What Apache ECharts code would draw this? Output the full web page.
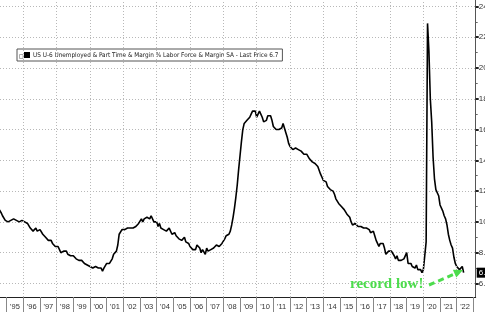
<!DOCTYPE html>
<html>
<head>
<meta charset="utf-8">
<script src="https://cdn.jsdelivr.net/npm/echarts@6/dist/echarts.min.js"></script>
<style>html,body{margin:0;padding:0;background:#fff}#c{width:485px;height:312px}</style>
</head>
<body>
<div id="c"></div>
<script>
// Monthly U-6 rate (%), Jan..Dec of each year
const u6_1994 = [11.8,11.4,11.4,11.2,10.8,10.9,10.9,10.8,10.6,10.4,10.3,10.1];
const u6_1995 = [10.1,10.0,9.9,10.1,10.1,10.2,10.2,10.1,10.1,10.0,10.1,10.1];
const u6_1996 = [10.0,10.0,9.9,9.9,9.8,9.6,9.6,9.4,9.5,9.6,9.4,9.5];
const u6_1997 = [9.5,9.4,9.2,9.2,9.0,8.9,8.8,8.7,8.8,8.6,8.5,8.4];
const u6_1998 = [8.5,8.4,8.4,8.0,8.0,8.1,8.2,8.1,7.9,7.9,7.8,7.7];
const u6_1999 = [7.8,7.7,7.6,7.6,7.5,7.5,7.5,7.4,7.3,7.3,7.2,7.2];
const u6_2000 = [7.1,7.2,7.0,6.9,7.1,7.0,7.0,7.1,7.0,6.8,7.0,6.9];
const u6_2001 = [7.3,7.4,7.3,7.4,7.6,7.9,7.9,8.1,8.5,9.2,9.3,9.5];
const u6_2002 = [9.5,9.5,9.4,9.6,9.5,9.6,9.6,9.6,9.6,9.7,9.8,9.9];
const u6_2003 = [10.0,10.2,10.0,10.2,10.1,10.3,10.3,10.2,10.4,10.3,10.0,9.9];
const u6_2004 = [10.0,9.7,9.9,9.6,9.7,9.5,9.5,9.4,9.4,9.6,9.5,9.2];
const u6_2005 = [9.3,9.3,9.1,9.0,8.9,9.0,8.8,8.9,9.0,8.7,8.7,8.6];
const u6_2006 = [8.4,8.4,8.2,8.1,8.2,8.5,8.5,8.3,8.0,8.2,8.1,7.9];
const u6_2007 = [8.3,8.1,8.0,8.2,8.2,8.3,8.4,8.5,8.6,8.4,8.4,8.6];
const u6_2008 = [8.5,8.9,9.1,9.1,9.2,9.4,9.8,10.3,10.9,11.6,12.4,13.4];
const u6_2009 = [14.3,15.2,16.0,16.4,16.5,16.6,16.5,16.8,17.0,17.2,17.1,17.2];
const u6_2010 = [16.8,17.0,17.2,17.2,16.8,16.5,16.5,16.6,16.9,17.0,16.9,16.6];
const u6_2011 = [16.2,16.1,16.0,16.1,16.0,16.1,16.1,16.4,16.3,15.8,15.5,15.1];
const u6_2012 = [14.9,14.9,14.7,14.7,14.8,14.8,14.7,14.6,14.6,14.5,14.4,14.3];
const u6_2013 = [14.4,14.3,14.1,14.0,13.9,14.0,13.8,13.7,13.6,13.5,13.1,12.9];
const u6_2014 = [12.7,12.6,12.6,12.3,12.2,12.1,12.1,12.0,11.8,11.5,11.4,11.2];
const u6_2015 = [11.3,11.0,10.9,10.8,10.7,10.5,10.4,10.3,10.0,9.8,9.9,9.9];
const u6_2016 = [9.9,9.7,9.8,9.7,9.7,9.6,9.7,9.6,9.7,9.5,9.3,9.2];
const u6_2017 = [9.4,9.1,8.8,8.6,8.4,8.6,8.6,8.6,8.3,7.9,8.0,8.1];
const u6_2018 = [8.2,8.1,8.0,7.8,7.6,7.8,7.5,7.4,7.5,7.4,7.6,7.6];
const u6_2019 = [8.0,7.3,7.3,7.3,7.1,7.2,7.0,7.2,6.9,7.0,6.9,6.7];
const u6_2020 = [6.9,7.0,8.7,22.9,21.1,18.0,16.5,14.2,12.8,12.1,12.0,11.7];
const u6_2021 = [11.1,11.1,10.7,10.4,10.2,9.8,9.2,8.8,8.5,8.3,7.7,7.3];
const u6_2022 = [7.1,7.2,6.9,7.0,7.1,6.7];

const firstYear = 1994;
const yearly = [u6_1994,u6_1995,u6_1996,u6_1997,u6_1998,u6_1999,u6_2000,u6_2001,u6_2002,u6_2003,
  u6_2004,u6_2005,u6_2006,u6_2007,u6_2008,u6_2009,u6_2010,u6_2011,u6_2012,u6_2013,u6_2014,
  u6_2015,u6_2016,u6_2017,u6_2018,u6_2019,u6_2020,u6_2021,u6_2022];

const yTicks = [6,8,10,12,14,16,18,20,22,24];
const yMinorTicks = [7,9,11,13,15,17,19,21,23];
const xYearTicks = [1995,1996,1997,1998,1999,2000,2001,2002,2003,2004,2005,2006,2007,2008,2009,
  2010,2011,2012,2013,2014,2015,2016,2017,2018,2019,2020,2021,2022,2023];
const xGridYears = [1996,1998,2000,2002,2004,2006,2008,2010,2012,2014,2016,2018,2020,2022];
const legendName = 'US U-6 Unemployed & Part Time & Margin % Labor Force & Margin SA - Last Price 6.7';

const data = [];
yearly.forEach((arr, i) => arr.forEach((v, m) => data.push([firstYear + i + m / 12, v])));
const lastVal = data[data.length - 1][1];
const xLabelVals = xYearTicks.slice(0, -1).map(y => y + 0.5);

const chart = echarts.init(document.getElementById('c'), null, {renderer: 'canvas'});
const grid = '#b8b8b8';
const dotted = {color: grid, type: [1, 2], width: 1};
chart.setOption({
  animation: false,
  backgroundColor: '#fff',
  grid: {left: 0, right: 9.3, top: 0, bottom: 15, containLabel: false, outerBoundsMode: 'none'},
  legend: {
    data: [legendName], left: 17, top: 49, icon: 'rect', itemWidth: 6, itemHeight: 6, itemGap: 0,
    padding: [3, 4, 3, 7], borderColor: '#555', borderWidth: 1, backgroundColor: '#fff',
    textStyle: {fontSize: 6.4, color: '#222', fontFamily: '"DejaVu Sans Condensed", sans-serif', padding: [0,0,0,-2]}
  },
  xAxis: [{
    type: 'value', min: 1994.6, max: 2023.14, position: 'bottom',
    axisLine: {show: true, lineStyle: {color: '#222', width: 1}},
    axisTick: {show: true, customValues: xYearTicks, length: 15, lineStyle: {color: '#888'}},
    axisLabel: {customValues: xLabelVals, formatter: v => "'" + String(Math.floor(v)).slice(2),
      fontSize: 7.5, color: '#333', margin: 6, fontFamily: 'Liberation Sans, Arial, sans-serif'},
    splitLine: {show: false}
  }],
  yAxis: [{
    type: 'value', min: 5.12, max: 24.42, position: 'right',
    axisLine: {show: true, lineStyle: {color: '#555', width: 1}},
    axisTick: {show: true, customValues: yTicks, length: 3, lineStyle: {color: '#222', width: 2}},
    axisLabel: {customValues: yTicks, formatter: v => v.toFixed(1), fontSize: 8, color: '#333', margin: 3,
      fontFamily: 'Liberation Sans, Arial, sans-serif'},
    splitLine: {show: true, lineStyle: dotted}
  }, {
    type: 'value', min: 5.12, max: 24.42, position: 'right',
    axisLine: {show: false},
    axisTick: {show: true, customValues: yMinorTicks, length: 2, lineStyle: {color: '#666', width: 1}},
    axisLabel: {show: true, customValues: [lastVal], formatter: v => v.toFixed(1), fontSize: 8, color: '#fff',
      backgroundColor: '#000', padding: [1, 2, 1, 2], margin: 1, fontFamily: 'Liberation Sans, Arial, sans-serif'},
    splitLine: {show: false}
  }],
  series: [{
    name: 'grid', type: 'line', data: [], xAxisIndex: 0, yAxisIndex: 0, z: 1, silent: true,
    markLine: {
      silent: true, symbol: 'none', animation: false, label: {show: false},
      lineStyle: dotted,
      data: xGridYears.map(y => ({xAxis: y}))
    }
  }, {
    name: legendName, type: 'line', data: data, showSymbol: false, symbol: 'none',
    xAxisIndex: 0, yAxisIndex: 0, clip: true, z: 3,
    itemStyle: {color: '#000'},
    lineStyle: {color: '#000', width: 1.6}
  }],
  graphic: [
    {type: 'rect', shape: {x: 19.5, y: 54.5, width: 3.5, height: 4}, style: {fill: '#fff', stroke: '#999', lineWidth: 0.8}, z: 100},
    {type: 'text', x: 350, y: 292, style: {text: 'record low!', fill: '#4cdc4c', font: 'bold 15px "Liberation Serif", "DejaVu Serif", serif', textVerticalAlign: 'bottom'}, z: 100},
    {type: 'line', shape: {x1: 429, y1: 285, x2: 456, y2: 273.4}, style: {stroke: '#4cdc4c', lineWidth: 3, lineDash: [6, 4]}, z: 100},
    {type: 'polygon', shape: {points: [[463, 270], [456.3, 277.6], [452.9, 269.7]]}, style: {fill: '#4cdc4c'}, z: 100}
  ]
});
</script>
</body>
</html>
